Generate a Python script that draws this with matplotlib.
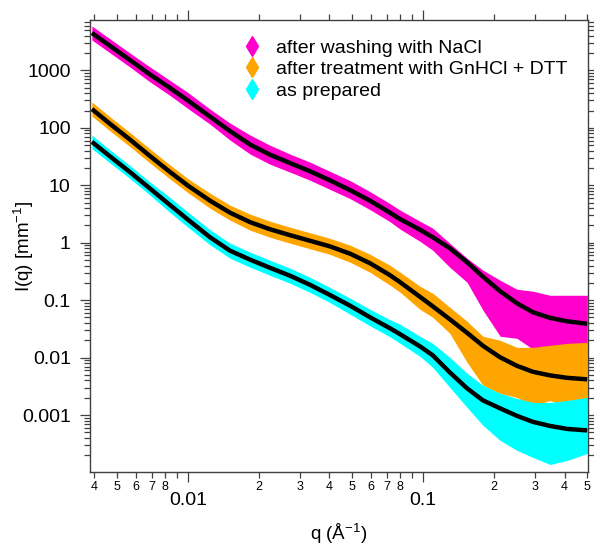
import numpy as np
import matplotlib
matplotlib.use("Agg")
import matplotlib.pyplot as plt
from matplotlib.ticker import LogLocator, FuncFormatter, NullFormatter
from matplotlib.lines import Line2D

plt.rcParams['font.family'] = ['Liberation Sans', 'DejaVu Sans']
plt.rcParams['mathtext.fontset'] = 'custom'
plt.rcParams['mathtext.rm'] = 'Liberation Sans'
plt.rcParams['mathtext.it'] = 'Liberation Sans:italic'

# ---------------- data ----------------
q = [0.0039, 0.0047, 0.0057, 0.0069, 0.0084, 0.010, 0.0124, 0.0151, 0.0184,
     0.0223, 0.0272, 0.033, 0.040, 0.049, 0.0595, 0.0724, 0.080, 0.097,
     0.110, 0.130, 0.154, 0.180, 0.213, 0.251, 0.294, 0.347, 0.410, 0.50]

labels = ["after washing with NaCl", "after treatment with GnHCl + DTT", "as prepared"]
colors = ["#ff00cc", "#ffa500", "#00ffff"]

nacl_fit = [4467, 2598, 1481, 845, 491, 298, 156.7, 87.6, 50.97, 34.1, 24.3, 17.6,
            12.27, 8.21, 5.39, 3.33, 2.57, 1.685, 1.247, 0.802, 0.457, 0.2557,
            0.143, 0.0883, 0.0615, 0.0493, 0.0429, 0.0388]
nacl_hi = [5913, 3440, 1962, 1141, 664, 410, 211.8, 120.8, 74.6, 49.9, 34.8, 25.3,
           17.6, 12.03, 7.74, 4.78, 3.68, 2.37, 1.79, 0.980, 0.537, 0.332,
           0.222, 0.155, 0.143, 0.1217, 0.1217, 0.1217]
nacl_lo = [3373, 1962, 1119, 626, 364, 216, 116, 61.1, 34.8, 23.3, 16.9, 12.27,
           8.55, 5.84, 3.76, 2.32, 1.719, 1.06, 0.740, 0.374, 0.205, 0.0667,
           0.0235, 0.0217, 0.01395, 0.0151, 0.0164, 0.0177]

gn_fit = [211.8, 113.7, 61.1, 32.1, 16.9, 9.84, 5.39, 3.33, 2.275, 1.719, 1.351,
          1.083, 0.869, 0.643, 0.4394, 0.2716, 0.205, 0.1146, 0.0783, 0.0465,
          0.0270, 0.01605, 0.01012, 0.0072, 0.00566, 0.00491, 0.00445, 0.00419]
gn_hi = [280.4, 150.6, 80.9, 42.6, 22.4, 13.0, 7.29, 4.50, 3.14, 2.37, 1.862,
         1.493, 1.198, 0.905, 0.630, 0.405, 0.306, 0.175, 0.132, 0.0752, 0.0429,
         0.0235, 0.0200, 0.0151, 0.0151, 0.0164, 0.0177, 0.0185]
gn_lo = [159.9, 85.9, 46.1, 24.3, 12.8, 7.43, 3.99, 2.47, 1.65, 1.247, 0.980,
         0.786, 0.630, 0.457, 0.306, 0.182, 0.137, 0.0694, 0.0504, 0.0265,
         0.00828, 0.00329, 0.00239, 0.00203, 0.00142, 0.00180, 0.00142, 0.00180]

prep_fit = [57.0, 30.9, 16.6, 8.73, 4.50, 2.516, 1.247, 0.7256, 0.5057, 0.3668,
            0.266, 0.1855, 0.1242, 0.0799, 0.0504, 0.0324, 0.02546, 0.01573,
            0.01097, 0.00554, 0.00292, 0.0018, 0.001308, 0.000968, 0.000761,
            0.000648, 0.000575, 0.000541]
prep_hi = [74.6, 40.1, 21.5, 11.3, 6.08, 3.40, 1.685, 0.980, 0.683, 0.496,
           0.3595, 0.2506, 0.1678, 0.1079, 0.0694, 0.0456, 0.0380, 0.0235,
           0.0177, 0.01012, 0.00533, 0.00329, 0.00239, 0.00195, 0.00166,
           0.00166, 0.00180, 0.00203]
prep_lo = [43.4, 23.8, 12.8, 6.72, 3.33, 1.862, 0.923, 0.537, 0.374, 0.2716,
           0.197, 0.1373, 0.0919, 0.0568, 0.0358, 0.0230, 0.0177, 0.01053,
           0.00678, 0.00304, 0.00136, 0.000662, 0.000362, 0.000243, 0.000183,
           0.000138, 0.000162, 0.000215]

fits = [nacl_fit, gn_fit, prep_fit]
his = [nacl_hi, gn_hi, prep_hi]
los = [nacl_lo, gn_lo, prep_lo]

# ---------------- figure ----------------
W, H = 594, 546
fig = plt.figure(figsize=(W / 100, H / 100), dpi=100)
L, R, T, B = 89.5, 588, 20, 472.3
ax = fig.add_axes([L / W, 1 - B / H, (R - L) / W, (B - T) / H])

for c, hi, lo in zip(colors, his, los):
    ax.fill_between(q, lo, hi, color=c, linewidth=0)
for f in fits:
    ax.plot(q, f, color="black", lw=3.2, solid_capstyle="butt",
            solid_joinstyle="round")

ax.set_xscale("log")
ax.set_yscale("log")
ax.set_xlim(0.00381, 0.5035)
ax.set_ylim(1.01e-4, 7520)

ax.xaxis.set_major_locator(LogLocator(base=10))
ax.xaxis.set_minor_locator(LogLocator(base=10, subs=np.arange(2, 10)))
ax.yaxis.set_major_locator(LogLocator(base=10))
ax.yaxis.set_minor_locator(LogLocator(base=10, subs=np.arange(2, 10)))

ax.xaxis.set_major_formatter(FuncFormatter(lambda v, p: f"{v:g}"))
ax.yaxis.set_major_formatter(FuncFormatter(lambda v, p: f"{v:g}"))
ax.yaxis.set_minor_formatter(NullFormatter())


def minor_fmt(v, p):
    e = np.floor(np.log10(v) + 1e-9)
    d = int(round(v / 10 ** e))
    return str(d) if 2 <= d <= 8 else ""


ax.xaxis.set_minor_formatter(FuncFormatter(minor_fmt))

spine_c = "#404040"
for s in ax.spines.values():
    s.set_color(spine_c)
    s.set_linewidth(1.0)

ax.tick_params(which="both", direction="out", top=True, right=True,
               color=spine_c, width=0.9)
ax.tick_params(which="major", length=7.5)
ax.tick_params(which="minor", length=4.5)
ax.tick_params(axis="y", which="major", labelsize=14, pad=6)
ax.tick_params(axis="x", which="major", labelsize=14, pad=7)
ax.tick_params(axis="x", which="minor", labelsize=9, pad=1.8)

aw, ah = R - L, B - T
ax.set_xlabel("q (Å$^{-1}$)", fontsize=13.5, va="center")
ax.xaxis.set_label_coords(0.5, (B - 533.5) / ah)
ax.set_ylabel("I(q) [mm$^{-1}$]", fontsize=13.5, va="center")
ax.yaxis.set_label_coords((24 - L) / aw, 0.5)

handles = [Line2D([], [], marker="d", linestyle="none", color=c, markersize=10)
           for c in colors]
fs = 14
fspx = fs * 100 / 72
hl = 1.0
ax.legend(handles, labels, loc="upper left",
          bbox_to_anchor=((252 - hl * fspx / 2) / W, 1 - 39.0 / H),
          bbox_transform=fig.transFigure, frameon=False, fontsize=fs,
          handlelength=hl, handletextpad=(24 - hl * fspx / 2) / fspx,
          labelspacing=0.2, borderpad=0, borderaxespad=0)

fig.savefig("out.png", dpi=100)
